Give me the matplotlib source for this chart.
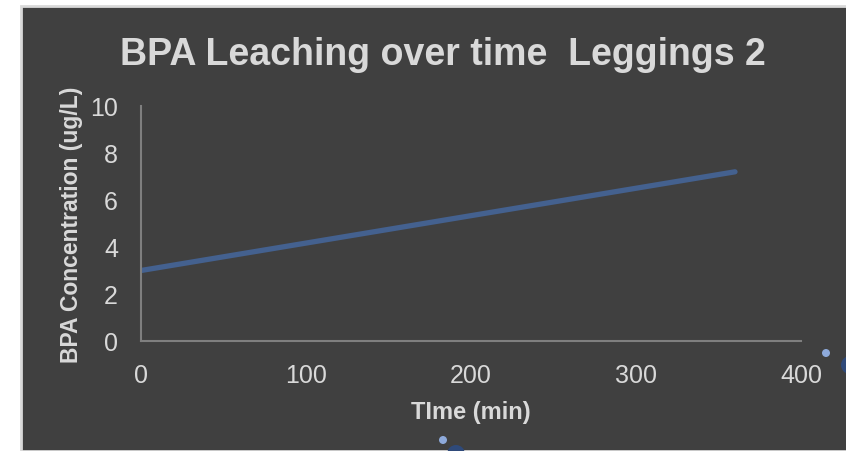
import matplotlib
matplotlib.use("Agg")
import matplotlib.pyplot as plt
from matplotlib.patches import Rectangle, Circle

# data
time_min = [0, 360]
bpa_conc = [3.0, 7.2]
x_ticks = [0, 100, 200, 300, 400]
y_ticks = [0, 2, 4, 6, 8, 10]

bg = "#404040"
txt = "#d9d9d9"
line_col = "#44618f"

plt.rcParams['font.family'] = ['Liberation Sans', 'DejaVu Sans']

fig = plt.figure(figsize=(8.46, 4.52), dpi=100)
fig.patch.set_facecolor("white")

# dark chart area with light border
fig.patches.append(Rectangle((21 / 846, 0), 1, 1 - 7 / 452, transform=fig.transFigure,
                             facecolor=bg, edgecolor="#d9d9d9", linewidth=2, zorder=-1))

ax = fig.add_axes([141 / 846, 1 - 342 / 452, 660 / 846, 235 / 452])
ax.set_facecolor(bg)
ax.patch.set_alpha(0)
ax.plot(time_min, bpa_conc, color=line_col, linewidth=3.8, solid_capstyle="round")

ax.set_xlim(0, 400)
ax.set_ylim(0, 10)
ax.set_xticks(x_ticks)
ax.set_yticks(y_ticks)
ax.tick_params(length=0, colors=txt, labelsize=18)
ax.tick_params(axis="y", pad=16.5)
ax.tick_params(axis="x", pad=15.5)

for s in ["top", "right"]:
    ax.spines[s].set_visible(False)
for s in ["left", "bottom"]:
    ax.spines[s].set_color("#7f7f7f")
    ax.spines[s].set_linewidth(1.5)

ax.set_xlabel("TIme (min)", color=txt, fontsize=17, fontweight="bold", labelpad=10)
ax.set_ylabel("BPA Concentration (ug/L)", color=txt, fontsize=16.5, fontweight="bold", labelpad=5)

fig.text(443 / 846, 1 - 55 / 452, "BPA Leaching over time  Leggings 2", color=txt,
         fontsize=27, fontweight="bold", ha="center", va="center")

# small selection handles visible in the screenshot
for cx, cy, r, c in [(826, 354, 4, "#8eaadb"), (850, 366, 9, "#2f4a7a"),
                     (443, 441, 4, "#8eaadb"), (456, 455, 9, "#2f4a7a")]:
    fig.patches.append(Circle((cx, 452 - cy), r, transform=None, facecolor=c,
                              edgecolor="none", zorder=5))

fig.savefig("out.png", dpi=100, facecolor=fig.get_facecolor())
